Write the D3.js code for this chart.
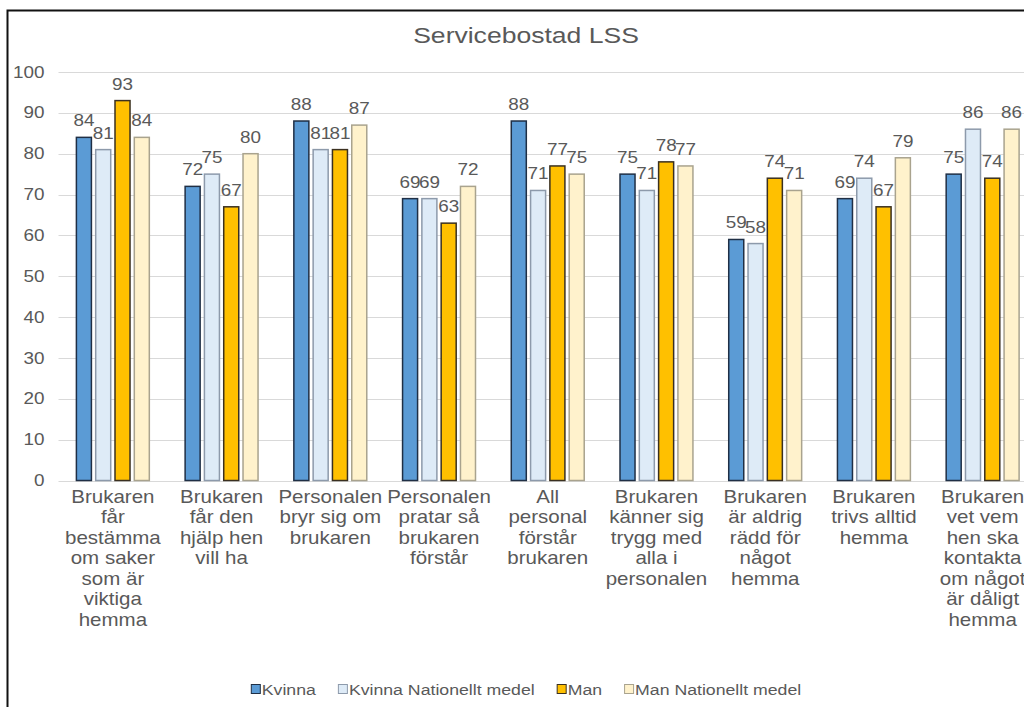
<!DOCTYPE html>
<html>
<head>
<meta charset="utf-8">
<script src="https://cdn.jsdelivr.net/npm/d3@7"></script>
<style>
  html, body { margin: 0; padding: 0; background: #fff; }
  svg { display: block; }
  text { font-family: Arial, "Liberation Sans", sans-serif; fill: #595959; }
</style>
</head>
<body>
<svg id="chart" width="1024" height="707"></svg>
<script>
const title = "Servicebostad LSS";
const categories = [
  ["Brukaren", "får", "bestämma", "om saker", "som är", "viktiga", "hemma"],
  ["Brukaren", "får den", "hjälp hen", "vill ha"],
  ["Personalen", "bryr sig om", "brukaren"],
  ["Personalen", "pratar så", "brukaren", "förstår"],
  ["All", "personal", "förstår", "brukaren"],
  ["Brukaren", "känner sig", "trygg med", "alla i", "personalen"],
  ["Brukaren", "är aldrig", "rädd för", "något", "hemma"],
  ["Brukaren", "trivs alltid", "hemma"],
  ["Brukaren", "vet vem", "hen ska", "kontakta", "om något", "är dåligt", "hemma"]
];
const seriesNames = ["Kvinna", "Kvinna Nationellt medel", "Man", "Man Nationellt medel"];
const kvinna = [84, 72, 88, 69, 88, 75, 59, 69, 75];
const kvinnaNat = [81, 75, 81, 69, 71, 71, 58, 74, 86];
const man = [93, 67, 81, 63, 77, 78, 74, 67, 74];
const manNat = [84, 80, 87, 72, 75, 77, 71, 79, 86];
const yTicks = [0, 10, 20, 30, 40, 50, 60, 70, 80, 90, 100];

const seriesValues = [kvinna, kvinnaNat, man, manNat];
const fills = ["#5b9bd5", "#deebf7", "#ffc000", "#fff2cc"];
const strokes = ["#1f2f45", "#8d9aab", "#3a3020", "#a9a38e"];
const SX = 1.18; // horizontal text stretch seen in the reference
const SXC = 1.14; // stretch for category labels

const svg = d3.select("#chart");
const catIdx = categories.map((c, i) => i);

// frame
svg.append("rect").attr("x", 7.5).attr("y", 10.5).attr("width", 1100).attr("height", 800)
  .attr("fill", "#fff").attr("stroke", "#111").attr("stroke-width", 2);

const x0 = d3.scaleBand().domain(catIdx).range([58.5, 1037]).paddingInner(0.32).paddingOuter(0.16);
const x1 = d3.scaleBand().domain(d3.range(4)).range([0, x0.bandwidth()]).paddingInner(0.17);
const y = d3.scaleLinear().domain([0, 100]).range([480.5, 72]);

// gridlines
svg.append("g").selectAll("line").data(yTicks).join("line")
  .attr("x1", 58.5).attr("x2", 1040)
  .attr("y1", d => Math.round(y(d)) + 0.5).attr("y2", d => Math.round(y(d)) + 0.5)
  .attr("stroke", "#d9d9d9").attr("stroke-width", 1);

// y axis labels
const yAxis = d3.axisLeft(y).tickValues(yTicks).tickSize(0).tickPadding(14);
const ya = svg.append("g").attr("transform", "translate(58.5,0)").call(yAxis);
ya.select(".domain").remove();
ya.selectAll("text")
  .attr("x", -14 / SX)
  .attr("transform", `scale(${SX},1)`)
  .style("font-size", "16px").style("fill", "#595959")
  .style("font-family", "Arial, 'Liberation Sans', sans-serif");

// bars
const groups = svg.append("g").selectAll("g").data(catIdx).join("g")
  .attr("transform", d => `translate(${x0(d)},0)`);

groups.selectAll("rect").data(ci => seriesValues.map((vals, si) => ({ si, v: vals[ci] }))).join("rect")
  .attr("x", d => x1(d.si) + 0.5)
  .attr("y", d => y(d.v))
  .attr("width", x1.bandwidth() - 1)
  .attr("height", d => y(0) - y(d.v))
  .attr("fill", d => fills[d.si])
  .attr("stroke", d => strokes[d.si])
  .attr("stroke-width", 1.5);

groups.selectAll("text").data(ci => seriesValues.map((vals, si) => ({ si, v: vals[ci] }))).join("text")
  .attr("transform", d => `translate(${x1(d.si) + x1.bandwidth() / 2},${y(d.v) - 11}) scale(${SX},1)`)
  .attr("text-anchor", "middle")
  .style("font-size", "16px")
  .text(d => d.v);

// category labels
const catG = svg.append("g").selectAll("text").data(catIdx).join("text")
  .attr("text-anchor", "middle")
  .style("font-size", "18px")
  .attr("transform", d => `translate(${x0(d) + x0.bandwidth() / 2},0) scale(${SXC},1)`);
catG.selectAll("tspan").data(d => categories[d]).join("tspan")
  .attr("x", 0)
  .attr("y", (d, i) => 503 + i * 20.5)
  .text(d => d);

// title
svg.append("text").attr("transform", `translate(526,43) scale(${SX},1)`).attr("text-anchor", "middle")
  .style("font-size", "22.5px").text(title);

// legend
const lg = svg.append("g");
const items = lg.selectAll("g").data(seriesNames).join("g");
items.append("rect").attr("x", 0.5).attr("y", -5.5).attr("width", 9).attr("height", 9)
  .attr("fill", (d, i) => fills[i]).attr("stroke", (d, i) => strokes[i]).attr("stroke-width", 1);
items.append("text").attr("transform", `translate(11,5) scale(${SX},1)`).style("font-size", "15px").text(d => d);
let cx = 0;
const gap = 22;
items.each(function () {
  const w = 11 + this.querySelector("text").getComputedTextLength() * SX;
  d3.select(this).attr("data-x", cx);
  cx += w + gap;
});
const totalW = cx - gap;
const startX = 526 - totalW / 2;
items.attr("transform", function () { return `translate(${startX + (+this.getAttribute("data-x"))},690)`; });
</script>
</body>
</html>
